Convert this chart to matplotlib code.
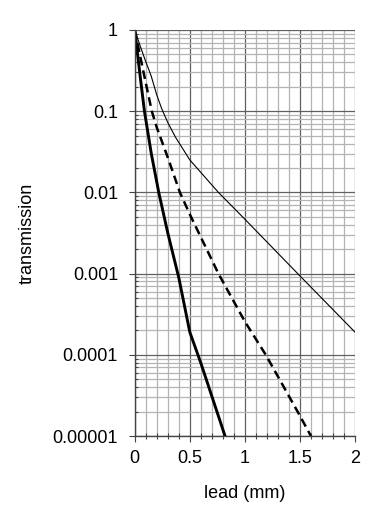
import numpy as np
import matplotlib
matplotlib.use("Agg")
import matplotlib.pyplot as plt
from matplotlib.ticker import FixedLocator, LogLocator, NullFormatter

plt.rcParams['font.family'] = ['Liberation Sans', 'DejaVu Sans']

# thin solid curve
thin_x = [0, 0.05, 0.1, 0.128, 0.15, 0.2, 0.245, 0.3, 0.37, 0.5, 0.76, 1.0, 1.48, 2.0]
thin_log = [0, -0.2, -0.39, -0.49, -0.57, -0.8, -0.97, -1.14, -1.32, -1.6, -2.0, -2.33, -3.0, -3.72]

# dashed curve
dash_x = [0, 0.05, 0.1, 0.155, 0.2, 0.308, 0.41, 0.5, 0.76, 1.0, 1.19, 1.5, 1.6]
dash_log = [0, -0.33, -0.65, -1.0, -1.2, -1.6, -2.0, -2.27, -3.0, -3.59, -4.0, -4.75, -5.0]

# thick solid curve
thick_x = [0, 0.05, 0.088, 0.15, 0.218, 0.3, 0.4, 0.5, 0.6, 0.82]
thick_log = [0, -0.58, -1.0, -1.52, -2.0, -2.5, -3.05, -3.72, -4.1, -5.0]

y_ticks = [1, 0.1, 0.01, 0.001, 0.0001, 0.00001]
y_labels = ['1', '0.1', '0.01', '0.001', '0.0001', '0.00001']
x_ticks = [0, 0.5, 1, 1.5, 2]
x_labels = ['0', '0.5', '1', '1.5', '2']

fig = plt.figure(figsize=(3.85, 5.26), dpi=100)
ax = fig.add_axes([0.350, 0.171, 0.572, 0.772])

ax.set_yscale('log')
ax.set_xlim(0, 2)
ax.set_ylim(1e-5, 1)

ax.xaxis.set_major_locator(FixedLocator(x_ticks))
ax.xaxis.set_minor_locator(FixedLocator(np.arange(0, 2.01, 0.1)))
ax.set_xticklabels(x_labels)
ax.yaxis.set_major_locator(FixedLocator(y_ticks))
ax.yaxis.set_minor_locator(LogLocator(base=10, subs=np.arange(2, 10)))
ax.yaxis.set_minor_formatter(NullFormatter())
ax.set_yticklabels(y_labels)

ax.grid(which='minor', color='#b4b4b4', linewidth=0.9)
ax.grid(which='major', color='#606060', linewidth=0.9)
ax.set_axisbelow(True)

ax.plot(thin_x, 10 ** np.array(thin_log), color='black', linewidth=0.8)
ax.plot(dash_x, 10 ** np.array(dash_log), color='black', linewidth=1.8, dashes=(3.5, 2))
ax.plot(thick_x, 10 ** np.array(thick_log), color='black', linewidth=2.1)

for s in ['top', 'right']:
    ax.spines[s].set_visible(False)
for s in ['left', 'bottom']:
    ax.spines[s].set_color('#444444')
    ax.spines[s].set_linewidth(1.0)

ax.tick_params(axis='both', which='major', labelsize=13, length=4, width=0.8, color='#444444', direction='out')
ax.tick_params(axis='y', which='major', pad=8)
ax.tick_params(axis='x', which='major', pad=6)
ax.tick_params(axis='x', which='minor', length=5, width=0.8, color='#444444', direction='inout')
ax.tick_params(axis='y', which='minor', length=2.5, width=0.8, color='#444444', direction='in')

ax.set_xlabel('lead (mm)', fontsize=13, labelpad=13)
ax.set_ylabel('transmission', fontsize=13, labelpad=12)

fig.savefig('out.png', dpi=100)
